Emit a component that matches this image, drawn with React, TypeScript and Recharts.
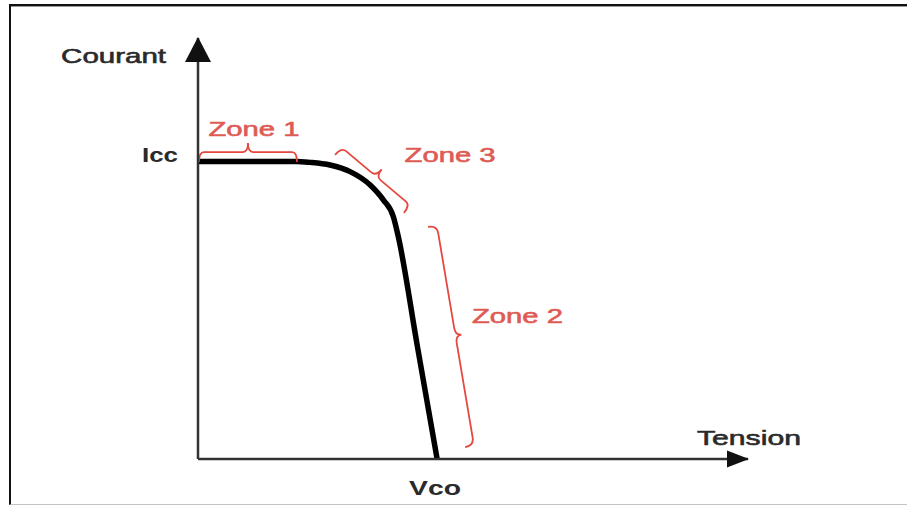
import React from 'react';
import { LineChart, Line, XAxis, YAxis, ReferenceLine, ReferenceDot } from 'recharts';

// I-V curve (Tension -> Courant), arbitrary units: Vco = 100, Icc = 100
const voltage = [0, 41.3, 46.8, 55.2, 63.6, 72.0, 77.5, 81.7, 83.6, 91.8, 100];
const current = [100, 100, 99.7, 98.8, 96.6, 92.1, 87.1, 81.4, 75.3, 37.6, 0];
const xTicks = [100];
const xTickLabels = ['Vco'];
const yTicks = [100];
const yTickLabels = ['Icc'];
const xMax = 230;
const yMax = 141.5;

// zone braces (start / end in data units) and label anchors
const zoneNames = ['Zone 1', 'Zone 3', 'Zone 2'];
const zoneStart = [[0.4, 99.8], [57.3, 102.2], [96.2, 78.0]];
const zoneEnd = [[41.4, 99.8], [86.1, 82.7], [111.7, 4.0]];
const zoneLabelPos = [[23.4, 108.6], [105.4, 99.8], [133.6, 45.7]];
const zoneShape = [
  { a: 10, w: 19, r: 5, s: 5 },
  { a: 10, w: 19, r: 6, s: 6 },
  { a: 9, w: 15, r: 8, s: 8 },
];

const data = voltage.map((v, i) => ({ v, i: current[i] }));

const RED = '#e4483f';
const RED_TEXT = '#de5b54';
const INK = '#2a2a2a';
const FONT = '"Liberation Sans", Arial, sans-serif';

function bracePath(x1: number, y1: number, x2: number, y2: number, a: number, w: number, r: number, s: number) {
  const dx = x2 - x1;
  const dy = y2 - y1;
  const L = Math.hypot(dx, dy);
  const ux = dx / L;
  const uy = dy / L;
  const px = uy;
  const py = -ux;
  const P = (t: number, o: number) => `${x1 + ux * t + px * o},${y1 + uy * t + py * o}`;
  const m = L / 2;
  return `M${P(0, 0)} Q${P(0, a)} ${P(r, a)} L${P(m - s, a)} Q${P(m, a)} ${P(m, w)} Q${P(m, a)} ${P(m + s, a)} L${P(L - r, a)} Q${P(L, a)} ${P(L, 0)}`;
}

const makeText = (label: string, len: number, fill: string) => (p: any) => (
  <text
    x={p.cx}
    y={p.cy}
    textAnchor="middle"
    fontFamily={FONT}
    fontSize={21}
    fill={fill}
    stroke={fill}
    strokeWidth={0.6}
    textLength={len}
    lengthAdjust="spacingAndGlyphs"
  >
    {label}
  </text>
);

const YTick = (p: any) => {
  const idx = yTicks.indexOf(p.payload.value);
  return (
    <text x={p.x - 20} y={p.y + 0.5} textAnchor="end" fontFamily={FONT} fontSize={21} fontWeight="bold" fill={INK}
      textLength={36} lengthAdjust="spacingAndGlyphs">
      {yTickLabels[idx]}
    </text>
  );
};

const XTick = (p: any) => {
  const idx = xTicks.indexOf(p.payload.value);
  return (
    <text x={p.x - 2} y={p.y + 36} textAnchor="middle" fontFamily={FONT} fontSize={21} fontWeight="bold" fill={INK}
      textLength={52} lengthAdjust="spacingAndGlyphs">
      {xTickLabels[idx]}
    </text>
  );
};

const UpArrow = (p: any) => (
  <polygon points={`${p.cx},${p.cy - 1} ${p.cx - 13},${p.cy + 24} ${p.cx + 13},${p.cy + 24}`} fill="#111" />
);
const RightArrow = (p: any) => (
  <polygon points={`${p.cx + 1},${p.cy} ${p.cx - 21},${p.cy - 8.5} ${p.cx - 21},${p.cy + 8.5}`} fill="#111" />
);

export default function App() {
  return (
    <div style={{ position: 'absolute', left: 0, top: 0, width: 907, height: 505, background: '#fff', overflow: 'hidden' }}>
      <div
        style={{
          position: 'absolute',
          left: 9,
          top: 4,
          width: 905,
          height: 498,
          borderLeft: '2px solid #111',
          borderTop: '2px solid #111',
          borderBottom: '1px solid #c4c4c4',
          boxShadow: 'inset 0 1px 0 #999',
        }}
      />
      <div style={{ position: 'absolute', left: 0, top: 0 }}>
        <LineChart width={907} height={505} data={data} margin={{ top: 38, right: 159, bottom: 16, left: 138 }}>
          <XAxis
            type="number"
            dataKey="v"
            domain={[0, xMax]}
            allowDataOverflow
            ticks={xTicks}
            interval={0}
            tickSize={0}
            tickMargin={0}
            tickLine={false}
            height={30}
            axisLine={{ stroke: '#333', strokeWidth: 2.5 }}
            tick={<XTick />}
          />
          <YAxis
            type="number"
            domain={[0, yMax]}
            allowDataOverflow
            ticks={yTicks}
            interval={0}
            tickSize={0}
            tickMargin={0}
            tickLine={false}
            width={60}
            axisLine={{ stroke: '#333', strokeWidth: 2.5 }}
            tick={<YTick />}
          />
          <Line
            type="monotone"
            dataKey="i"
            stroke="#000"
            strokeWidth={5.5}
            dot={false}
            activeDot={false}
            isAnimationActive={false}
          />
          {zoneNames.map((name, k) => (
            <ReferenceLine
              key={`b${k}`}
              ifOverflow="visible"
              segment={[
                { x: zoneStart[k][0], y: zoneStart[k][1] },
                { x: zoneEnd[k][0], y: zoneEnd[k][1] },
              ]}
              shape={(p: any) => (
                <path
                  d={bracePath(p.x1, p.y1, p.x2, p.y2, zoneShape[k].a, zoneShape[k].w, zoneShape[k].r, zoneShape[k].s)}
                  fill="none"
                  stroke={RED}
                  strokeWidth={1.8}
                />
              )}
            />
          ))}
          {zoneNames.map((name, k) => (
            <ReferenceDot
              key={`t${k}`}
              x={zoneLabelPos[k][0]}
              y={zoneLabelPos[k][1]}
              ifOverflow="visible"
              shape={makeText(name, 91, RED_TEXT)}
            />
          ))}
          <ReferenceDot x={-35.3} y={133.1} ifOverflow="visible" shape={makeText('Courant', 105, INK)} />
          <ReferenceDot x={230.4} y={4.7} ifOverflow="visible" shape={makeText('Tension', 104, INK)} />
          <ReferenceDot x={0} y={yMax} ifOverflow="visible" shape={UpArrow} />
          <ReferenceDot x={xMax} y={0} ifOverflow="visible" shape={RightArrow} />
        </LineChart>
      </div>
    </div>
  );
}
